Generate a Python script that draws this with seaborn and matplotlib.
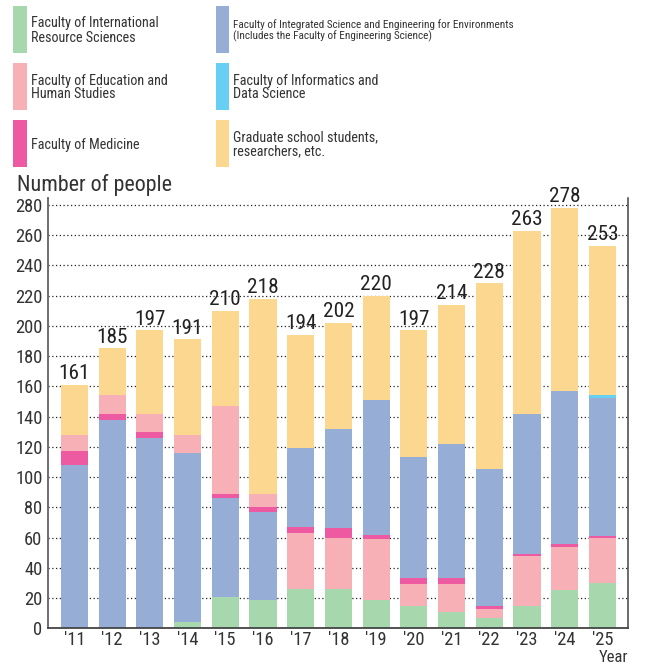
import matplotlib
matplotlib.use("Agg")
import matplotlib.pyplot as plt
from matplotlib import font_manager as fm
from matplotlib.patches import Rectangle
import numpy as np
import seaborn as sns

# ---- data -------------------------------------------------------------
years = ["'11", "'12", "'13", "'14", "'15", "'16", "'17", "'18", "'19",
         "'20", "'21", "'22", "'23", "'24", "'25"]

intl_resource = [0, 0, 0, 4, 21, 19, 26, 26, 19, 15, 11, 7, 15, 25, 30]
education     = [11, 12, 12, 12, 58, 9, 37, 34, 40, 14, 18, 6, 33, 29, 30]
medicine      = [9, 4, 4, 0, 3, 3, 4, 6, 3, 4, 4, 2, 1, 2, 1]
integrated    = [108, 138, 126, 112, 65, 58, 52, 66, 89, 80, 89, 90, 93, 101, 91]
informatics   = [0, 0, 0, 0, 0, 0, 0, 0, 0, 0, 0, 0, 0, 0, 2]
graduate      = [33, 31, 55, 63, 63, 129, 75, 70, 69, 84, 92, 123, 121, 121, 99]

series_keys = ["intl", "edu", "med", "integ", "info", "grad"]
series_values = {
    "intl": intl_resource, "edu": education, "med": medicine,
    "integ": integrated, "info": informatics, "grad": graduate,
}
series_labels = {
    "intl": "Faculty of International\nResource Sciences",
    "edu": "Faculty of Education and\nHuman Studies",
    "med": "Faculty of Medicine",
    "integ": "Faculty of Integrated Science and Engineering for Environments\n"
             "(Includes the Faculty of Engineering Science)",
    "info": "Faculty of Informatics and\nData Science",
    "grad": "Graduate school students,\nresearchers, etc.",
}
series_colors = {
    "intl": "#A7D7AD", "edu": "#F7B1B6", "med": "#EE5AA1",
    "integ": "#96ADD6", "info": "#67CFF3", "grad": "#FCD78F",
}

# stacking order (bottom to top) changed after the 2016 reorganisation
order_early = ["intl", "integ", "med", "edu", "info", "grad"]
order_late = ["intl", "edu", "med", "integ", "info", "grad"]
year_order = [order_early] * 6 + [order_late] * 9

# ---- fonts: prefer a narrow sans ---------------------------------------
sns.set_theme(style="white")
entries = fm.fontManager.ttflist
names = {f.name for f in entries}
FONT, STRETCH = "DejaVu Sans", "normal"
for cand in ["Liberation Sans Narrow", "Roboto Condensed", "Open Sans Condensed",
             "Noto Sans Condensed"]:
    if cand in names:
        FONT = cand
        break
else:
    cond = [f for f in entries if f.name == "Noto Sans"
            and str(f.stretch) in ("condensed", "extra-condensed", "semi-condensed")]
    if cond:
        FONT, STRETCH = "Noto Sans", str(cond[0].stretch)
    elif "Lato" in names:
        FONT = "Lato"
plt.rcParams["font.family"] = [FONT, "DejaVu Sans"]
plt.rcParams["font.stretch"] = STRETCH
TXT = "#333333"

# ---- figure -------------------------------------------------------------
W, H = 646, 666
fig = plt.figure(figsize=(W / 100, H / 100), dpi=100)
fig.patch.set_facecolor("white")
renderer = fig.canvas.get_renderer()


def fit_size(text, target_px, max_pt):
    """Font size that makes `text` about target_px wide, capped at max_pt."""
    t = fig.text(0, 0, text, fontsize=10)
    w = t.get_window_extent(renderer).width
    t.remove()
    return min(max_pt, 10 * target_px / w)


fs_total = fit_size("228", 31, 18)
fs_tick = fit_size("280", 27, 13.5)
fs_title = fit_size("Number of people", 155, 16)
fs_leg = fit_size("Faculty of Education and", 137, 13)
fs_leg_long = fit_size("Faculty of Integrated Science and Engineering for Environments", 280, 12)

ax_left, ax_right = 48 / W, 628 / W
ax_bottom, ax_top = 1 - 628.3 / H, 1 - 198 / H
ax = fig.add_axes([ax_left, ax_bottom, ax_right - ax_left, ax_top - ax_bottom])

# bottoms for every segment, following the per-year stacking order
n = len(years)
bottoms = {k: np.zeros(n) for k in series_keys}
for i, order in enumerate(year_order):
    base = 0.0
    for k in order:
        bottoms[k][i] = base
        base += series_values[k][i]

totals = [sum(series_values[k][i] for k in series_keys) for i in range(n)]

for k in series_keys:
    sns.barplot(x=years, y=series_values[k], bottom=bottoms[k],
                color=series_colors[k], width=0.72, errorbar=None,
                saturation=1, linewidth=0, ax=ax, order=years)

# total labels above each bar
for i, t in enumerate(totals):
    ax.text(i, t + 1.0, str(t), ha="center", va="bottom",
            fontsize=fs_total, color="#222222")

ax.set_xlim(-0.70, n - 1 + 0.68)
ax.set_ylim(0, 284.5)
ax.set_yticks(np.arange(0, 281, 20))
ax.set_xlabel("")
ax.set_ylabel("")

ax.set_axisbelow(True)
ax.yaxis.grid(True, color="#222222", linewidth=0.9, linestyle=(0, (1, 2)))
ax.xaxis.grid(False)

ax.tick_params(axis="both", length=0, labelsize=fs_tick, labelcolor=TXT)
ax.tick_params(axis="y", pad=4)
ax.tick_params(axis="x", pad=2)

ax.spines["top"].set_visible(False)
ax.spines["left"].set_color("#6e6e6e")
ax.spines["left"].set_linewidth(1.4)
ax.spines["right"].set_color("#444444")
ax.spines["right"].set_linewidth(1.1)
ax.spines["bottom"].set_color("#444444")
ax.spines["bottom"].set_linewidth(1.3)

fig.text(17 / W, 1 - 191 / H, "Number of people", ha="left", va="baseline",
         fontsize=fs_title, color=TXT)
fig.text(628 / W, 1 - 665.5 / H, "Year", ha="right", va="bottom",
         fontsize=fs_tick * 0.9, color=TXT)

# ---- legend: two columns of tall swatches ------------------------------
legend_cols = [["intl", "edu", "med"], ["integ", "info", "grad"]]
col_swatch_x = [13.5, 216]
col_text_x = [31, 233]
row_tops = [6, 63, 120]
swatch_w, swatch_h = 13, 47
for c, keys in enumerate(legend_cols):
    for r, k in enumerate(keys):
        y0 = row_tops[r]
        size = fs_leg_long if k == "integ" else fs_leg
        fig.add_artist(Rectangle((col_swatch_x[c] / W, 1 - (y0 + swatch_h) / H),
                                 swatch_w / W, swatch_h / H,
                                 transform=fig.transFigure,
                                 facecolor=series_colors[k], edgecolor="none"))
        fig.text(col_text_x[c] / W, 1 - (y0 + swatch_h / 2 + 1) / H,
                 series_labels[k], ha="left", va="center",
                 fontsize=size, color=TXT, linespacing=1.0)

fig.savefig("out.png", dpi=100, facecolor="white")
